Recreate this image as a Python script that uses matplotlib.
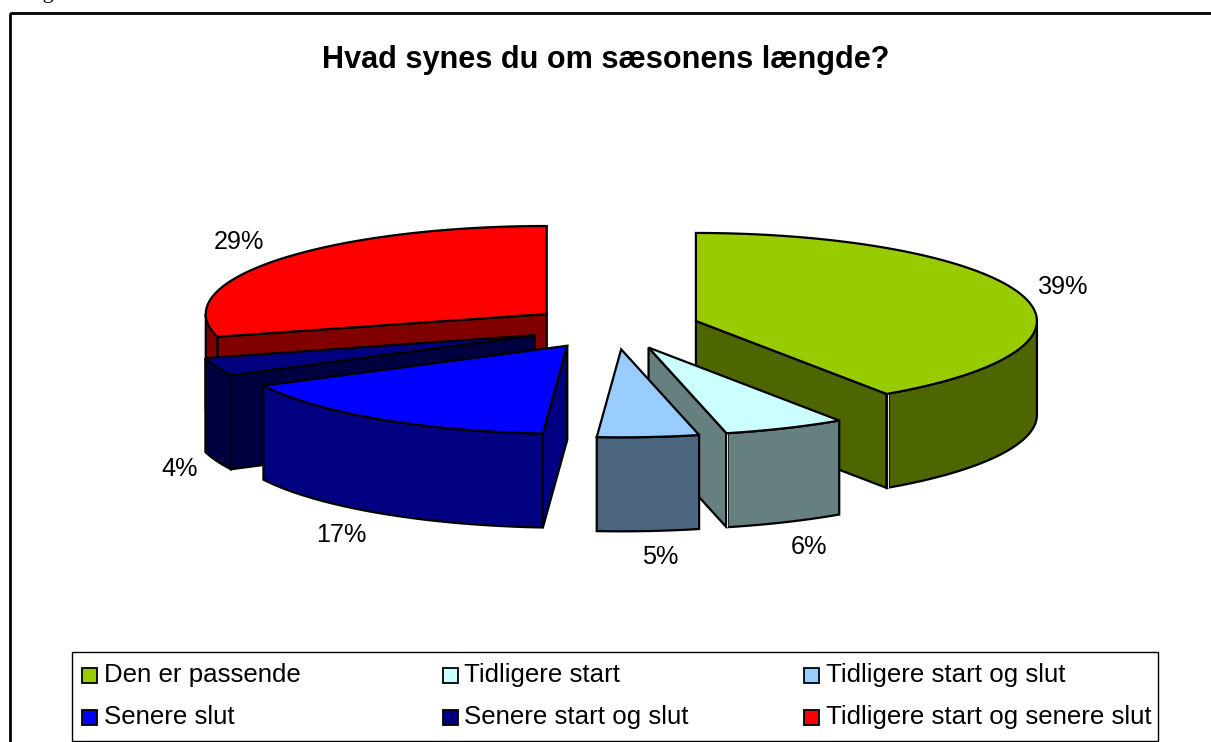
# chart of the season length survey, exploded 3D pie
import numpy as np
import matplotlib
matplotlib.use("Agg")
import matplotlib.pyplot as plt
from matplotlib.patches import Polygon, Rectangle

plt.rcParams['font.family'] = ['Liberation Sans', 'DejaVu Sans']

# -----------------------
# Data
# -----------------------
title = "Hvad synes du om sæsonens længde?"
categories = ["Den er passende", "Tidligere start", "Tidligere start og slut",
              "Senere slut", "Senere start og slut", "Tidligere start og senere slut"]
values = [39, 6, 5, 17, 4, 29]
colors = ["#99CC00", "#CCFFFF", "#99CCFF", "#0000FF", "#000080", "#FF0000"]

# -----------------------
# Pie geometry, in pixels
# -----------------------
W, H = 1211, 742
cx, cy = 614.4, 327.4
rx, ry = 341, 88
depth = 94
explode = 0.25
# small nudges for the percent labels
label_nudge = [(1, -1), (7, 3), (9, 2), (-14, 2), (2, 0), (-4, -4)]


def warp(t):
    # the 3D view stretches the front right part of the pie a bit
    return np.interp(t, [0, 140.4, 241.2, 255.6, 360], [0, 146, 243, 255, 360])


def rim(t, x0, y0):
    t = np.radians(t)
    return np.column_stack([x0 + rx * np.sin(t), y0 - ry * np.cos(t)])


def darker(c):
    return tuple(v * 0.5 for v in matplotlib.colors.to_rgb(c))


def down(pts):
    return pts + np.array([0, depth])


fig = plt.figure(figsize=(W / 100, H / 100), dpi=100)
ax = fig.add_axes([0, 0, 1, 1])
ax.set_xlim(0, W)
ax.set_ylim(H, 0)
ax.axis('off')

# caption of the page above the chart, only the tail of the g is left in the crop
ax.text(24, -2, "Figur", family='Liberation Serif', fontsize=16, ha='left', va='baseline')

# chart frame, runs off the right and bottom of the picture
ax.add_patch(Rectangle((10, 13), 1260, 760, fill=False, ec='black', lw=2, zorder=1))
ax.text(606, 60, title, fontsize=22.1, fontweight='bold', ha='center', va='center')

# -----------------------
# Wedges
# -----------------------
edges = np.cumsum([0] + values) / sum(values) * 360
starts = warp(edges[:-1])
ends = warp(edges[1:])
# back to front, same order as the original
order = [5, 4, 3, 0, 1, 2]
lw = 1.6

for z, i in enumerate(order):
    t0, t1 = starts[i], ends[i]
    mid = (t0 + t1) / 2
    apex_x = cx + explode * rx * np.sin(np.radians(mid))
    apex_y = cy - explode * ry * np.cos(np.radians(mid))
    apex = np.array([[apex_x, apex_y]])
    side = darker(colors[i])
    zo = 2 + z

    # cut faces, only the ones turned to the viewer
    if np.sin(np.radians(t0)) < 0:
        p = rim(t0, apex_x, apex_y)
        ax.add_patch(Polygon(np.vstack([apex, p, down(p), down(apex)]), fc=side, ec='black', lw=lw, zorder=zo))
    if np.sin(np.radians(t1)) > 0:
        p = rim(t1, apex_x, apex_y)
        ax.add_patch(Polygon(np.vstack([apex, p, down(p), down(apex)]), fc=side, ec='black', lw=lw, zorder=zo))

    # outer wall, front half of the rim only
    a, b = max(t0, 90), min(t1, 270)
    if b > a:
        arc = rim(np.linspace(a, b, 80), apex_x, apex_y)
        ax.add_patch(Polygon(np.vstack([arc, down(arc)[::-1]]), fc=side, ec='black', lw=lw, zorder=zo))

    # light seam where the cut face meets the outer wall
    if 90 < t1 < 180:
        p = rim(t1, apex_x, apex_y)
        seam = np.vstack([p, down(p)])
        ax.plot(seam[:, 0] + 1, seam[:, 1], color='black', lw=2.6, zorder=zo, solid_capstyle='butt')
        ax.plot(seam[:, 0] + 1, seam[:, 1], color='#dddddd', lw=0.8, zorder=zo, solid_capstyle='butt')

    # top face
    arc = rim(np.linspace(t0, t1, 120), apex_x, apex_y)
    ax.add_patch(Polygon(np.vstack([apex, arc]), fc=colors[i], ec='black', lw=lw, zorder=zo))

# -----------------------
# Percent labels
# -----------------------
for i, v in enumerate(values):
    mid = (starts[i] + ends[i]) / 2
    s, c = np.sin(np.radians(mid)), np.cos(np.radians(mid))
    x = cx + explode * rx * s + rx * s + 42 * s + label_nudge[i][0]
    y = cy - explode * ry * c - ry * c - 24 * c + label_nudge[i][1]
    if c < 0:
        y += depth
    ax.text(x, y, f"{v}%", fontsize=18.2, ha='center', va='center', zorder=20)

# -----------------------
# Legend
# -----------------------
ax.add_patch(Rectangle((72, 652), 1086, 89, fc='white', ec='black', lw=1, zorder=21))
col_x = [81.5, 442.5, 803.5]
row_y = [668, 710]
for i, name in enumerate(categories):
    x, y = col_x[i % 3], row_y[i // 3]
    ax.add_patch(Rectangle((x, y), 15, 15, fc=colors[i], ec='black', lw=1.3, zorder=22))
    ax.text(x + 22, y + 14, name, fontsize=18.6, ha='left', va='baseline', zorder=22)

fig.savefig('out.png', dpi=100)
